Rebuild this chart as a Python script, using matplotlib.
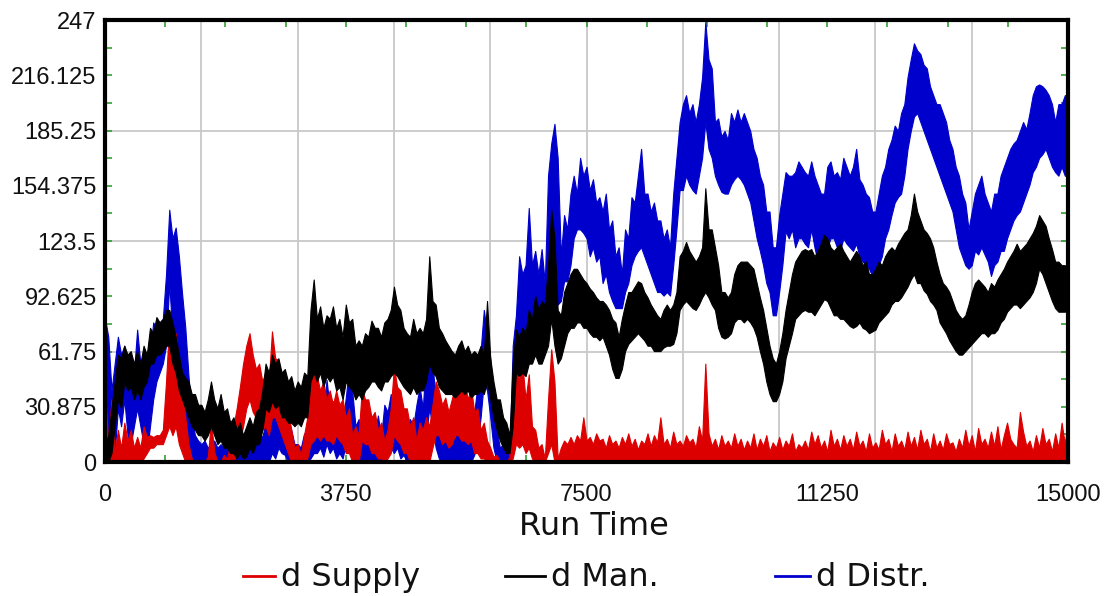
import numpy as np
import matplotlib
matplotlib.use('Agg')
import matplotlib.pyplot as plt
from matplotlib.lines import Line2D

# each series is a noisy band: low / high envelope read every 50 time units (0 .. 15000)
supply_hi = [
    40, 10, 35, 5, 18, 8, 22, 12, 18, 8,
    14, 8, 20, 14, 15, 14, 15, 15, 18, 45,
    79, 70, 72, 55, 40, 25, 10, 2, 0, 0,
    0, 0, 3, 23, 6, 0, 0, 4, 2, 10,
    20, 30, 42, 55, 65, 72, 60, 52, 55, 45,
    50, 45, 73, 58, 57, 45, 42, 30, 18, 8,
    10, 4, 15, 25, 58, 48, 48, 40, 45, 35,
    40, 32, 40, 32, 35, 25, 30, 15, 20, 15,
    41, 35, 35, 25, 28, 18, 22, 12, 18, 30,
    53, 42, 40, 30, 30, 20, 25, 12, 22, 18,
    25, 20, 32, 45, 40, 32, 36, 28, 35, 42,
    48, 42, 45, 35, 42, 28, 30, 18, 22, 12,
    8, 3, 4, 0, 0, 0, 3, 40, 60, 45,
    55, 35, 49, 20, 18, 8, 10, 2, 35, 63,
    45, 2, 8, 12, 10, 14, 10, 15, 12, 25,
    12, 14, 10, 16, 12, 13, 8, 15, 10, 12,
    8, 14, 10, 16, 9, 13, 7, 12, 10, 16,
    9, 15, 11, 25, 10, 13, 8, 17, 10, 12,
    9, 15, 11, 13, 8, 20, 12, 55, 16, 9,
    13, 7, 15, 9, 12, 8, 16, 9, 13, 7,
    12, 8, 16, 7, 13, 9, 15, 6, 11, 8,
    14, 7, 12, 9, 16, 6, 10, 8, 12, 7,
    17, 10, 15, 8, 12, 6, 18, 9, 13, 7,
    15, 9, 13, 7, 17, 9, 12, 6, 16, 8,
    11, 7, 18, 10, 13, 6, 16, 9, 12, 7,
    17, 9, 14, 7, 18, 10, 13, 6, 16, 8,
    12, 7, 16, 10, 11, 6, 13, 8, 18, 9,
    15, 6, 19, 10, 13, 8, 17, 9, 20, 7,
    15, 22, 13, 10, 8, 28, 17, 9, 12, 6,
    15, 8, 19, 10, 13, 6, 16, 8, 22, 10,
    25]
supply_lo = [
    0, 0, 0, 0, 0, 0, 2, 0, 2, 0,
    2, 0, 2, 5, 8, 8, 10, 10, 10, 15,
    20, 15, 20, 10, 5, 0, 0, 0, 0, 0,
    0, 0, 0, 0, 0, 0, 0, 0, 0, 0,
    0, 5, 12, 20, 30, 35, 28, 25, 25, 18,
    20, 15, 25, 25, 20, 15, 10, 5, 0, 0,
    0, 0, 0, 2, 10, 12, 15, 12, 15, 12,
    12, 10, 15, 12, 10, 5, 5, 0, 2, 0,
    12, 10, 10, 5, 5, 2, 2, 0, 2, 5,
    15, 12, 10, 5, 5, 0, 2, 0, 2, 0,
    2, 0, 8, 15, 15, 10, 12, 8, 10, 15,
    15, 12, 12, 10, 12, 5, 5, 2, 2, 0,
    0, 0, 0, 0, 0, 0, 0, 2, 10, 8,
    10, 5, 8, 2, 0, 0, 0, 0, 5, 10,
    0, 0, 0, 0, 0, 0, 0, 0, 0, 0,
    0, 0, 0, 0, 0, 0, 0, 0, 0, 0,
    0, 0, 0, 0, 0, 0, 0, 0, 0, 0,
    0, 0, 0, 0, 0, 0, 0, 0, 0, 0,
    0, 0, 0, 0, 0, 0, 0, 0, 0, 0,
    0, 0, 0, 0, 0, 0, 0, 0, 0, 0,
    0, 0, 0, 0, 0, 0, 0, 0, 0, 0,
    0, 0, 0, 0, 0, 0, 0, 0, 0, 0,
    0, 0, 0, 0, 0, 0, 0, 0, 0, 0,
    0, 0, 0, 0, 0, 0, 0, 0, 0, 0,
    0, 0, 0, 0, 0, 0, 0, 0, 0, 0,
    0, 0, 0, 0, 0, 0, 0, 0, 0, 0,
    0, 0, 0, 0, 0, 0, 0, 0, 0, 0,
    0, 0, 0, 0, 0, 0, 0, 0, 0, 0,
    0, 0, 0, 0, 0, 0, 0, 0, 0, 0,
    0, 0, 0, 0, 0, 0, 0, 0, 0, 0,
    0]

man_hi = [
    10, 15, 30, 45, 60, 58, 65, 60, 62, 55,
    62, 55, 65, 60, 75, 72, 81, 78, 80, 85,
    85, 78, 70, 60, 50, 47, 45, 38, 38, 32,
    32, 28, 35, 45, 35, 30, 38, 28, 30, 22,
    25, 18, 22, 15, 20, 25, 20, 28, 30, 40,
    55, 50, 60, 55, 58, 50, 52, 45, 48, 40,
    45, 42, 50, 48, 85, 102, 80, 87, 75, 82,
    80, 87, 75, 80, 70, 88, 78, 80, 65, 68,
    65, 72, 70, 79, 75, 75, 70, 78, 80, 85,
    98, 88, 85, 75, 72, 70, 80, 72, 75, 72,
    80, 115, 90, 88, 75, 72, 68, 65, 62, 60,
    65, 68, 62, 65, 60, 62, 60, 65, 60, 90,
    58, 45, 35, 35, 25, 22, 15, 55, 74, 70,
    75, 72, 85, 80, 93, 85, 90, 88, 110, 141,
    125, 85, 82, 95, 100, 105, 108, 108, 105, 102,
    100, 97, 95, 92, 90, 90, 88, 85, 80, 78,
    70, 80, 88, 95, 95, 98, 101, 100, 95, 92,
    88, 85, 82, 80, 85, 88, 85, 88, 95, 115,
    118, 123, 118, 115, 112, 115, 120, 153, 130, 130,
    120, 110, 95, 95, 92, 95, 105, 110, 112, 112,
    112, 110, 108, 100, 92, 85, 75, 65, 58, 55,
    62, 72, 85, 95, 105, 112, 115, 118, 119, 118,
    119, 115, 118, 122, 127, 125, 120, 118, 120, 122,
    118, 115, 112, 115, 118, 115, 110, 112, 105, 105,
    108, 112, 110, 115, 118, 120, 118, 122, 125, 128,
    130, 138, 150, 140, 135, 130, 128, 125, 120, 112,
    105, 100, 98, 95, 90, 85, 82, 80, 82, 88,
    95, 100, 102, 100, 98, 95, 100, 98, 102, 105,
    108, 112, 115, 118, 122, 118, 120, 122, 125, 128,
    132, 138, 135, 132, 125, 119, 112, 112, 110, 110,
    100]
man_lo = [
    0, 0, 5, 20, 35, 30, 45, 40, 42, 35,
    40, 35, 42, 45, 55, 55, 60, 60, 62, 65,
    65, 55, 50, 40, 35, 30, 25, 20, 18, 15,
    15, 12, 15, 20, 15, 10, 12, 8, 8, 5,
    5, 2, 5, 2, 3, 8, 5, 10, 10, 18,
    30, 28, 34, 30, 32, 25, 25, 22, 22, 20,
    22, 20, 25, 25, 45, 50, 45, 50, 42, 48,
    45, 48, 40, 42, 35, 45, 42, 40, 35, 38,
    35, 40, 42, 45, 45, 42, 40, 45, 45, 48,
    50, 48, 45, 42, 40, 38, 42, 38, 40, 40,
    45, 55, 50, 48, 42, 40, 38, 38, 38, 36,
    38, 40, 38, 40, 36, 38, 38, 40, 38, 45,
    35, 25, 18, 12, 8, 5, 5, 20, 50, 48,
    50, 48, 55, 55, 60, 55, 55, 60, 65, 80,
    65, 55, 58, 65, 72, 75, 75, 78, 78, 75,
    75, 72, 70, 70, 68, 70, 65, 60, 52, 47,
    47, 52, 62, 66, 68, 70, 72, 70, 68, 65,
    65, 62, 62, 62, 64, 65, 65, 66, 72, 85,
    88, 90, 88, 86, 85, 88, 92, 95, 92, 88,
    85, 75, 70, 69, 70, 72, 78, 80, 80, 78,
    80, 78, 75, 70, 62, 55, 45, 38, 34, 34,
    38, 45, 58, 65, 72, 80, 82, 84, 85, 84,
    84, 82, 85, 88, 91, 90, 86, 82, 82, 80,
    80, 78, 76, 75, 76, 78, 75, 74, 72, 73,
    74, 78, 80, 82, 84, 88, 90, 90, 92, 95,
    98, 102, 105, 100, 100, 96, 94, 90, 88, 85,
    78, 75, 72, 68, 65, 62, 60, 60, 62, 64,
    66, 68, 70, 72, 72, 70, 72, 72, 74, 78,
    80, 84, 86, 88, 88, 86, 88, 90, 92, 95,
    100, 108, 105, 100, 95, 90, 86, 84, 84, 84,
    85]

distr_hi = [
    80, 70, 40, 55, 70, 60, 65, 45, 40, 50,
    74, 55, 50, 45, 60, 78, 75, 78, 80, 105,
    141, 125, 131, 115, 94, 75, 48, 25, 15, 12,
    10, 12, 8, 10, 12, 8, 10, 8, 12, 8,
    10, 8, 12, 8, 10, 8, 14, 10, 16, 14,
    22, 18, 28, 24, 34, 28, 30, 22, 18, 10,
    10, 8, 16, 14, 30, 49, 30, 34, 25, 46,
    30, 34, 25, 30, 22, 36, 53, 40, 20, 24,
    10, 16, 12, 22, 16, 26, 14, 32, 28, 38,
    30, 36, 24, 28, 16, 24, 20, 32, 42, 30,
    60, 75, 55, 35, 22, 12, 14, 10, 16, 12,
    30, 20, 24, 12, 16, 28, 42, 62, 85, 72,
    58, 35, 18, 8, 10, 5, 4, 65, 82, 115,
    105, 110, 142, 110, 118, 105, 119, 100, 160, 178,
    189, 170, 115, 138, 130, 150, 160, 150, 170, 160,
    165, 152, 158, 145, 148, 140, 150, 130, 135, 115,
    120, 105, 130, 125, 148, 145, 160, 175, 150, 150,
    140, 145, 135, 135, 125, 130, 120, 150, 170, 190,
    200, 205, 195, 200, 190, 200, 215, 246, 225, 220,
    190, 192, 182, 185, 180, 195, 190, 197, 190, 195,
    190, 185, 175, 170, 160, 155, 140, 140, 120, 120,
    138, 150, 162, 160, 160, 162, 168, 165, 162, 160,
    168, 160, 155, 150, 150, 165, 168, 160, 162, 158,
    170, 165, 160, 165, 175, 158, 155, 150, 148, 140,
    140, 150, 160, 165, 175, 180, 188, 185, 195, 200,
    215, 225, 234, 230, 228, 222, 220, 210, 205, 200,
    200, 195, 190, 180, 175, 165, 160, 150, 145, 130,
    140, 150, 155, 160, 150, 145, 140, 150, 150, 160,
    165, 170, 175, 178, 180, 185, 190, 186, 195, 205,
    210, 211, 210, 208, 205, 200, 190, 200, 200, 205,
    205]
distr_lo = [
    40, 10, 0, 5, 30, 20, 35, 15, 10, 20,
    30, 20, 10, 5, 20, 35, 45, 50, 55, 65,
    100, 70, 60, 50, 40, 25, 10, 0, 0, 0,
    0, 0, 0, 0, 0, 0, 0, 0, 0, 0,
    0, 0, 0, 0, 0, 0, 0, 0, 2, 0,
    2, 0, 5, 2, 8, 5, 4, 0, 0, 0,
    0, 0, 0, 0, 2, 5, 5, 8, 3, 10,
    5, 8, 2, 5, 2, 10, 15, 5, 0, 0,
    0, 0, 0, 2, 0, 2, 0, 5, 5, 8,
    5, 8, 2, 4, 0, 2, 0, 4, 10, 5,
    15, 30, 20, 8, 2, 0, 0, 0, 0, 0,
    2, 0, 0, 0, 0, 4, 10, 25, 45, 40,
    25, 8, 0, 0, 0, 0, 0, 20, 60, 64,
    64, 70, 80, 82, 85, 80, 82, 82, 95, 120,
    120, 88, 90, 101, 101, 110, 125, 130, 130, 128,
    125, 115, 120, 112, 115, 100, 105, 95, 90, 86,
    86, 86, 95, 100, 110, 115, 118, 120, 115, 110,
    105, 100, 95, 95, 93, 95, 93, 110, 130, 152,
    152, 160, 155, 152, 150, 160, 170, 190, 175, 170,
    160, 155, 151, 150, 150, 155, 158, 160, 158, 155,
    150, 145, 135, 125, 118, 110, 100, 95, 82, 82,
    95, 110, 129, 125, 130, 120, 125, 125, 122, 120,
    130, 120, 112, 108, 115, 120, 125, 125, 120, 118,
    125, 122, 120, 118, 122, 115, 112, 110, 108, 104,
    104, 110, 115, 125, 130, 138, 145, 148, 150, 160,
    175, 185, 193, 195, 190, 185, 180, 175, 170, 165,
    160, 155, 150, 145, 140, 130, 120, 115, 110, 108,
    110, 118, 116, 120, 116, 112, 104, 110, 112, 118,
    118, 125, 130, 135, 138, 140, 145, 150, 155, 162,
    165, 170, 172, 175, 170, 165, 162, 160, 165, 160,
    160]

x_ticks = [0, 3750, 7500, 11250, 15000]
y_ticks = [0, 30.875, 61.75, 92.625, 123.5, 154.375, 185.25, 216.125, 247]
y_labels = ['0', '30.875', '61.75', '92.625', '123.5', '154.375', '185.25', '216.125', '247']
x_grid = [1500, 3000, 4500, 6000, 7500, 9000, 10500, 12000, 13500]
y_grid = [61.75, 123.5, 185.25]

names = ['d Supply', 'd Man.', 'd Distr.']
colors = ['#dd0000', '#000000', '#0000cc']

fig = plt.figure(figsize=(11.07, 5.96), dpi=100)
ax = fig.add_axes([0.0949, 0.2248, 0.8699, 0.7416])

# grid
for gx in x_grid:
    ax.axvline(gx, color='#c8c8c8', lw=1.3, zorder=0)
for gy in y_grid:
    ax.axhline(gy, color='#c8c8c8', lw=1.3, zorder=0)

# series bands: distr below, then supply, man on top
bands = [(distr_lo, distr_hi, colors[2]), (supply_lo, supply_hi, colors[0]), (man_lo, man_hi, colors[1])]
for z, (lo, hi, c) in enumerate(bands):
    t = np.linspace(0, 15000, len(hi))
    ax.fill_between(t, lo, hi, facecolor=c, edgecolor=c, lw=0.8, zorder=2 + z)

ax.set_xlim(0, 15000)
ax.set_ylim(0, 247)

# labels, no visible major ticks
ax.set_xticks(x_ticks)
ax.set_xticklabels([str(v) for v in x_ticks])
ax.set_yticks(y_ticks)
ax.set_yticklabels(y_labels)
ax.tick_params(which='major', length=0, labelsize=17, pad=6, labelcolor='#111111')
ax.tick_params(axis='x', which='major', pad=16)
for lab in ax.get_xticklabels() + ax.get_yticklabels():
    lab.set_family('Liberation Sans')

# green minor ticks inside on every side
ax.set_xticks(np.arange(0, 15001, 937.5), minor=True)
ax.set_yticks(np.arange(0, 247.1, 15.4375), minor=True)
ax.xaxis.remove_overlapping_locs = False
ax.yaxis.remove_overlapping_locs = False
ax.tick_params(which='minor', direction='in', length=5, width=1.1, color='#1f9a1f',
               top=True, bottom=True, left=True, right=True)

for sp in ax.spines.values():
    sp.set_linewidth(3.0)
    sp.set_color('black')
    sp.set_zorder(6)

fig.text(0.5366, 0.1158, 'Run Time', ha='center', va='center', fontsize=23, color='#111111')

# legend drawn by hand
leg_y = 0.031
line_x = [(243, 275), (505, 545), (775, 810)]
for name, c, (x0, x1) in zip(names, colors, line_x):
    fig.add_artist(Line2D([x0 / 1107, x1 / 1107], [leg_y + 0.002, leg_y + 0.002], color=c, lw=2.0))
    fig.text((x1 + 6) / 1107, leg_y, name, ha='left', va='center', fontsize=23, color='#111111')

fig.savefig('out.png', dpi=100)
